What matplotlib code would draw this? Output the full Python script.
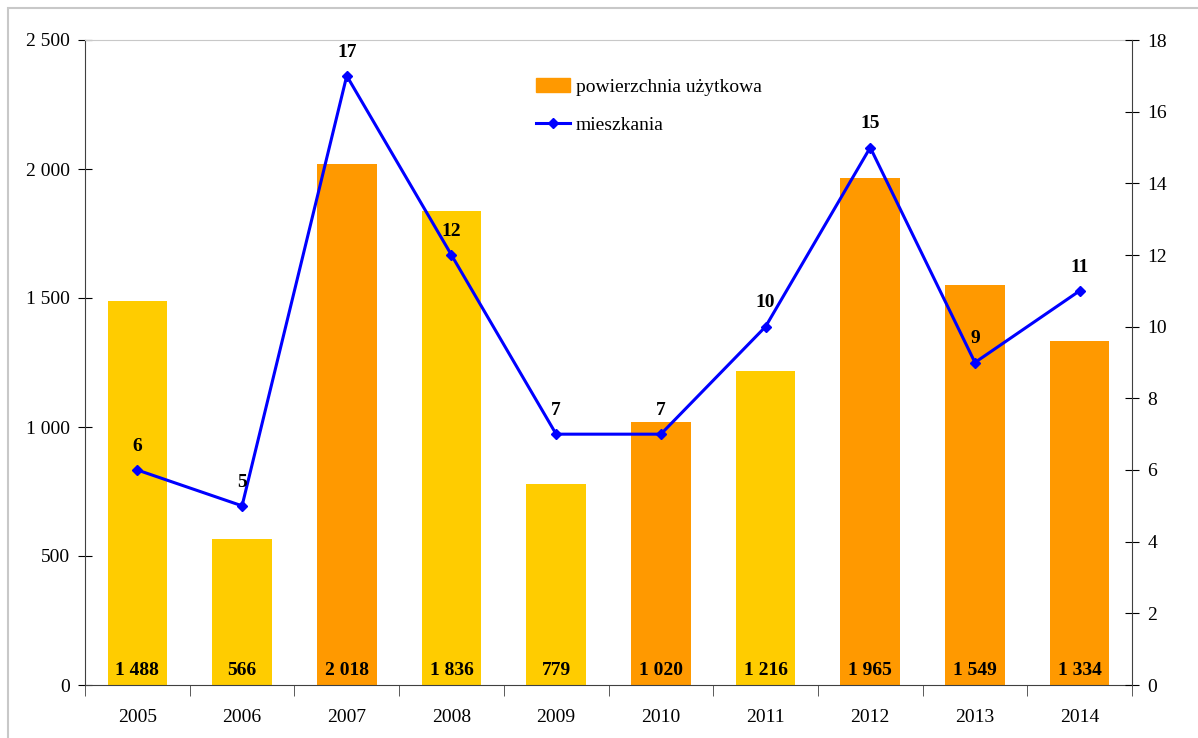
import numpy as np
import matplotlib.pyplot as plt
from matplotlib.patches import Rectangle
from matplotlib.ticker import FuncFormatter

plt.rcParams['font.family'] = ['Liberation Serif', 'DejaVu Serif']

years = ['2005', '2006', '2007', '2008', '2009', '2010', '2011', '2012', '2013', '2014']
area = [1488, 566, 2018, 1836, 779, 1020, 1216, 1965, 1549, 1334]   # powierzchnia uzytkowa
flats = [6, 5, 17, 12, 7, 7, 10, 15, 9, 11]                           # mieszkania
bar_colors = ['#FFCC00', '#FFCC00', '#FF9900', '#FFCC00', '#FFCC00',
              '#FF9900', '#FFCC00', '#FF9900', '#FF9900', '#FF9900']

def spaced(v, pos=None):
    return format(int(v), ',').replace(',', ' ')

fig = plt.figure(figsize=(11.98, 7.38), dpi=100)
# outer chart frame
fig.patches.append(Rectangle((8/1198, -0.01), 1.02, (730/738) + 0.01, transform=fig.transFigure,
                             fill=False, edgecolor='#C8C8C8', linewidth=1.5))

ax = fig.add_axes([85/1198, 53/738, 1047/1198, 645/738])
x = np.arange(len(years))
ax.bar(x, area, width=0.57, color=bar_colors, zorder=2)
ax.set_xlim(-0.5, len(years) - 0.5)
ax.set_ylim(0, 2500)
ax.set_yticks(range(0, 2501, 500))
ax.yaxis.set_major_formatter(FuncFormatter(spaced))
ax.set_xticks(x)
ax.set_xticklabels(years)
ax.tick_params(axis='x', length=0, pad=17, labelsize=14)
ax.set_xticks(np.arange(-0.5, len(years)), minor=True)
ax.tick_params(axis='x', which='minor', length=8, direction='out', color='#404040')
ax.tick_params(axis='y', direction='inout', length=10, labelsize=14, pad=6)

for s in ['left', 'bottom']:
    ax.spines[s].set_color('#404040')
ax.spines['top'].set_color('#C8C8C8')
ax.spines['right'].set_visible(False)

for xi, v in zip(x, area):
    ax.text(xi, 25, spaced(v), ha='center', va='bottom', fontsize=14, fontweight='bold', zorder=4)

ax2 = ax.twinx()
ax2.plot(x, flats, color='#0000FF', linewidth=2.2, marker='D', markersize=5.5, zorder=3)
ax2.set_ylim(0, 18)
ax2.set_yticks(range(0, 19, 2))
ax2.tick_params(axis='y', direction='inout', length=10, labelsize=14, pad=6)
ax2.spines['right'].set_color('#404040')
for s in ['left', 'top', 'bottom']:
    ax2.spines[s].set_visible(False)

for xi, v in zip(x, flats):
    ax2.annotate(str(v), (xi, v), xytext=(0, 11), textcoords='offset points',
                 ha='center', va='bottom', fontsize=14, fontweight='bold')

# legend
h1 = Rectangle((0, 0), 1, 1, color='#FF9900')
h2, = ax.plot([], [], color='#0000FF', linewidth=2.2, marker='D', markersize=5.5)
ax2.legend([h1, h2], ['powierzchnia użytkowa', 'mieszkania'], loc='upper left',
           bbox_to_anchor=(0.414, 0.968), frameon=False, fontsize=14,
           handlelength=1.75, handletextpad=0.3, labelspacing=1.05)

plt.savefig('out.png', dpi=100)
